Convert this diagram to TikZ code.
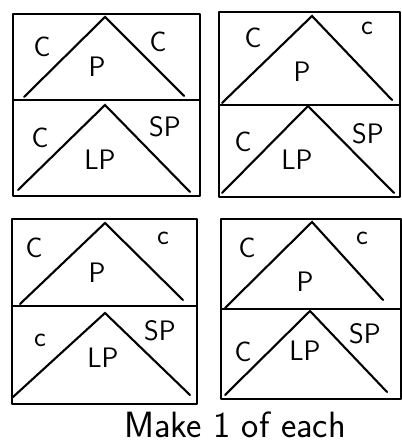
\documentclass[tikz,border=0pt]{standalone}
\usepackage{tikz}

\tikzset{
  frame/.style={line width=1.6pt, line join=round},
  slope/.style={line width=1.5pt, line cap=round},
  lbl/.style={font=\sffamily\fontsize{20}{24}\selectfont, inner sep=0pt}
}

\begin{document}
\begin{tikzpicture}[x=0.025cm, y=-0.025cm]

    \useasboundingbox (0,0) rectangle (401,444);

    % top left
    \draw[frame] (13,14) rectangle (200,196);
    \draw[frame] (13,100) -- (200,100);
    \coordinate (tla) at (105,17);
    \coordinate (tlb) at (105,105);
    \draw[slope] (24,97) -- (tla) -- (184,96);
    \draw[slope] (18,190) -- (tlb) -- (190,192);
    \node[lbl] (tlc1) at (42,47) {C};
    \node[lbl] (tlp) at (97,67) {P};
    \node[lbl] (tlc2) at (158,42) {C};
    \node[lbl] (tlc3) at (40,138) {C};
    \node[lbl] (tllp) at (100,160) {LP};
    \node[lbl] (tlsp) at (165,127) {SP};

    % top right
    \draw[frame] (219,12) rectangle (400,197);
    \draw[frame] (219,105) -- (400,105);
    \coordinate (tra) at (312,16);
    \coordinate (trb) at (308,106);
    \draw[slope] (222,103) -- (tra) -- (392,100);
    \draw[slope] (222,193) -- (trb) -- (394,193);
    \node[lbl] (trc1) at (253,38) {C};
    \node[lbl] (trp) at (302,72) {P};
    \node[lbl] (trc2) at (367,28) {c};
    \node[lbl] (trc3) at (243,142) {C};
    \node[lbl] (trlp) at (297,160) {LP};
    \node[lbl] (trsp) at (368,134) {SP};

    % bottom left
    \draw[frame] (12,219) rectangle (197,404);
    \draw[frame] (12,306) -- (197,306);
    \coordinate (bla) at (105,223);
    \coordinate (blb) at (105,313);
    \draw[slope] (20,304) -- (bla) -- (183,300);
    \draw[slope] (13,397) -- (blb) -- (190,395);
    \node[lbl] (blc1) at (34,248) {C};
    \node[lbl] (blp) at (97,273) {P};
    \node[lbl] (blc2) at (163,238) {c};
    \node[lbl] (blc3) at (40,340) {c};
    \node[lbl] (bllp) at (103,358) {LP};
    \node[lbl] (blsp) at (160,331) {SP};

    % bottom right
    \draw[frame] (221,219) rectangle (401,399);
    \draw[frame] (221,309) -- (401,309);
    \coordinate (bra) at (312,222);
    \coordinate (brb) at (310,311);
    \draw[slope] (225,308) -- (bra) -- (383,300);
    \draw[slope] (225,395) -- (brb) -- (387,392);
    \node[lbl] (brc1) at (247,248) {C};
    \node[lbl] (brp) at (305,282) {P};
    \node[lbl] (brc2) at (362,238) {c};
    \node[lbl] (brc3) at (243,352) {C};
    \node[lbl] (brlp) at (305,351) {LP};
    \node[lbl] (brsp) at (365,334) {SP};

    \node[font=\sffamily\fontsize{26}{30}\selectfont, inner sep=0pt] (cap) at (235,425) {Make 1 of each};
  \end{tikzpicture}
\end{document}
